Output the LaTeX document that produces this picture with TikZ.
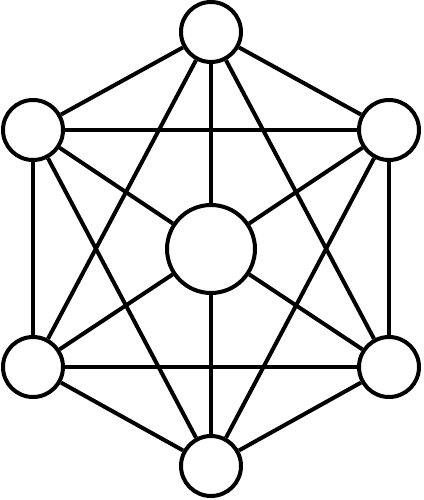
\documentclass[tikz,border=0pt]{standalone}
\usepackage{tikz}
\usetikzlibrary{positioning,arrows,calc}

\tikzset{
  hub/.style={circle,draw,line width=0.08cm,minimum size=1.2cm,inner sep=0pt},
  core/.style={circle,draw,line width=0.08cm,minimum size=1.76cm,inner sep=0pt},
  link/.style={line width=0.08cm}
}

\begin{document}
\begin{tikzpicture}[x=0.02cm,y=-0.02cm]

  \useasboundingbox (0,0) rectangle (423,500);

  \node[core] (c) at (211,249) {};
  \node[hub] (n0) at (211,32) {};
  \node[hub] (n1) at (33,130) {};
  \node[hub] (n2) at (389,130) {};
  \node[hub] (n3) at (33,367) {};
  \node[hub] (n4) at (389,367) {};
  \node[hub] (n5) at (211,466) {};

  % outer ring
  \path[link] (n0) edge (n1);
  \path[link] (n0) edge (n2);
  \path[link] (n1) edge (n3);
  \path[link] (n2) edge (n4);
  \path[link] (n3) edge (n5);
  \path[link] (n4) edge (n5);
  \path[link] (n1) edge (n2);
  \path[link] (n3) edge (n4);

  % crossing lines
  \path[link] (n0) edge (n3);
  \path[link] (n0) edge (n4);
  \path[link] (n5) edge (n1);
  \path[link] (n5) edge (n2);

  % spokes
  \foreach \i in {0,...,5}
    \path[link] (c) edge (n\i);

\end{tikzpicture}
\end{document}
